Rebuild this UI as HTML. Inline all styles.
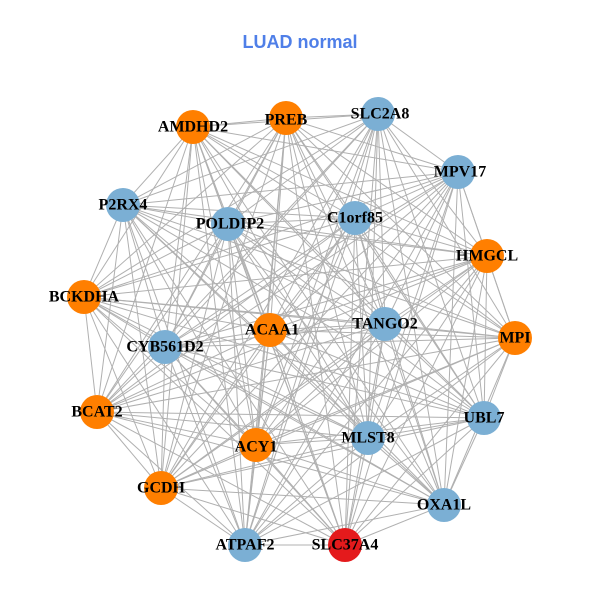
<!DOCTYPE html>
<html><head><meta charset="utf-8"><style>
html,body{margin:0;padding:0;background:#fff;}
svg{display:block}
text.l{font-family:"Liberation Serif",serif;font-weight:bold;font-size:16px;text-anchor:middle;dominant-baseline:central;fill:#000}
</style></head><body>
<svg id="s" width="600" height="600" xmlns="http://www.w3.org/2000/svg">
<text x="300" y="42" text-anchor="middle" dominant-baseline="central" font-family="Liberation Sans, sans-serif" font-weight="bold" font-size="18" fill="#4F7FE8">LUAD normal</text>
<g id="e" stroke="#b0b0b0" stroke-width="1"></g>
<g id="n">
<circle cx="193" cy="127" r="17" fill="#FF7F00"/>
<circle cx="286" cy="118" r="17" fill="#FF7F00"/>
<circle cx="378" cy="114" r="17" fill="#7BAFD4"/>
<circle cx="458" cy="172" r="17" fill="#7BAFD4"/>
<circle cx="123" cy="205" r="17" fill="#7BAFD4"/>
<circle cx="228" cy="224" r="17" fill="#7BAFD4"/>
<circle cx="355" cy="218" r="17" fill="#7BAFD4"/>
<circle cx="487" cy="256" r="17" fill="#FF7F00"/>
<circle cx="84" cy="297" r="17" fill="#FF7F00"/>
<circle cx="270" cy="330" r="17" fill="#FF7F00"/>
<circle cx="385" cy="324" r="17" fill="#7BAFD4"/>
<circle cx="515" cy="338" r="17" fill="#FF7F00"/>
<circle cx="165" cy="347" r="17" fill="#7BAFD4"/>
<circle cx="97" cy="412" r="17" fill="#FF7F00"/>
<circle cx="484" cy="418" r="17" fill="#7BAFD4"/>
<circle cx="256" cy="445" r="17" fill="#FF7F00"/>
<circle cx="368" cy="438" r="17" fill="#7BAFD4"/>
<circle cx="161" cy="488" r="17" fill="#FF7F00"/>
<circle cx="444" cy="505" r="17" fill="#7BAFD4"/>
<circle cx="245" cy="545" r="17" fill="#7BAFD4"/>
<circle cx="345" cy="545" r="17" fill="#E41A1C"/>
</g>
<g>
<text class="l" x="193" y="127">AMDHD2</text>
<text class="l" x="286" y="120">PREB</text>
<text class="l" x="380" y="114">SLC2A8</text>
<text class="l" x="460" y="172">MPV17</text>
<text class="l" x="123" y="205">P2RX4</text>
<text class="l" x="230" y="224">POLDIP2</text>
<text class="l" x="355" y="218">C1orf85</text>
<text class="l" x="487" y="256">HMGCL</text>
<text class="l" x="84" y="297">BCKDHA</text>
<text class="l" x="272" y="330">ACAA1</text>
<text class="l" x="385" y="324">TANGO2</text>
<text class="l" x="515" y="338">MPI</text>
<text class="l" x="165" y="347">CYB561D2</text>
<text class="l" x="97" y="412">BCAT2</text>
<text class="l" x="484" y="418">UBL7</text>
<text class="l" x="256" y="447">ACY1</text>
<text class="l" x="368" y="438">MLST8</text>
<text class="l" x="161" y="488">GCDH</text>
<text class="l" x="444" y="505">OXA1L</text>
<text class="l" x="245" y="545">ATPAF2</text>
<text class="l" x="345" y="545">SLC37A4</text>
</g>
</svg>
<script>
var c=document.querySelectorAll('#n circle'),g=document.getElementById('e'),p=[];
c.forEach(function(a){p.push([a.getAttribute('cx'),a.getAttribute('cy')]);});
for(var i=0;i<p.length;i++)for(var j=i+1;j<p.length;j++){
var l=document.createElementNS('http://www.w3.org/2000/svg','line');
l.setAttribute('x1',p[i][0]);l.setAttribute('y1',p[i][1]);l.setAttribute('x2',p[j][0]);l.setAttribute('y2',p[j][1]);g.appendChild(l);}
</script>
</body></html>
